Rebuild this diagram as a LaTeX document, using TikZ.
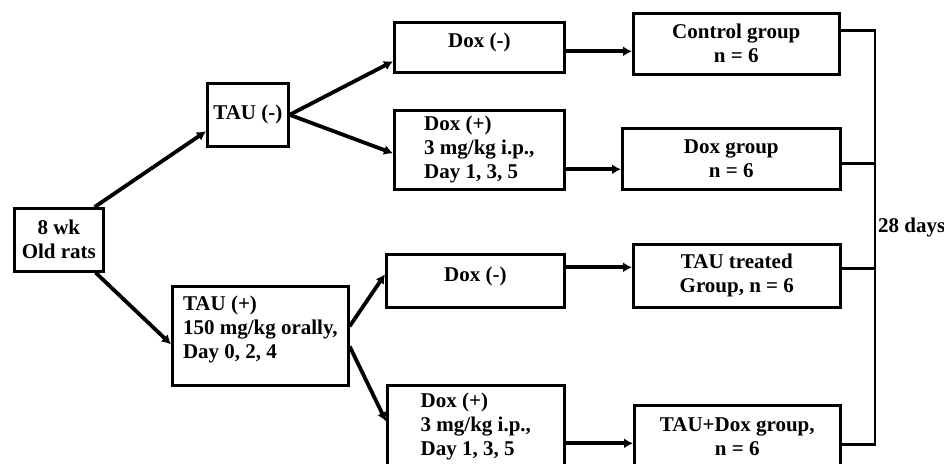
\documentclass[tikz,border=0pt]{standalone}
\usepackage{fontspec}
\setmainfont{Liberation Serif}
\usetikzlibrary{arrows.meta, positioning, calc}

\begin{document}
\begin{tikzpicture}[
  x=1pt, y=-1pt,
  box/.style={draw, line width=2.6pt, inner sep=2pt, anchor=north west,
    font=\fontsize{21}{24}\selectfont\bfseries},
  arr/.style={-{Latex[length=9pt, width=10pt]}, line width=3.8pt},
  brk/.style={line width=2.6pt}
]
\useasboundingbox (0,0) rectangle (944,463);
% start and treatment boxes
\node[box, minimum width=89pt, minimum height=63pt, align=center] (rats) at (13,207) {8 wk\\Old rats};
\node[box, minimum width=81pt, minimum height=63pt] (taum) at (206,82) {TAU (-)};
\node[box, minimum width=176pt, minimum height=99pt, align=left, text depth=18pt] (taup) at (171,285)
  {TAU (+)\\150 mg/kg orally,\\Day 0, 2, 4};
\node[box, minimum width=170pt, minimum height=50pt, text depth=14pt] (doxa) at (393,21) {Dox (-)};
\node[box, minimum width=170pt, minimum height=79pt, align=left] (doxb) at (393,109)
  {Dox (+)\\3 mg/kg i.p.,\\Day 1, 3, 5};
\node[box, minimum width=178pt, minimum height=53pt, text depth=14pt] (doxc) at (385,253) {Dox (-)};
\node[box, minimum width=177pt, minimum height=82pt, align=left] (doxd) at (386,384)
  {Dox (+)\\3 mg/kg i.p.,\\Day 1, 3, 5};
% groups
\node[box, minimum width=206pt, minimum height=61pt, align=center] (ctrl) at (632,12) {Control group\\n = 6};
\node[box, minimum width=218pt, minimum height=61pt, align=center] (doxg) at (621,127) {Dox group\\n = 6};
\node[box, minimum width=207pt, minimum height=63pt, align=center] (taut) at (632,243) {TAU treated\\Group, n = 6};
\node[box, minimum width=206pt, minimum height=62pt, align=center] (taud) at (633,404) {TAU+Dox group,\\n = 6};

\draw[arr] ([xshift=-10pt]rats.north east) -- ([yshift=-16.5pt]taum.west);
\draw[arr] ([xshift=-9pt]rats.south east) -- ([yshift=-8.5pt]taup.west);
\draw[arr] (taum.east) -- ([yshift=-14pt]doxa.west);
\draw[arr] (taum.east) -- ([yshift=-3.5pt]doxb.west);
\draw[arr] ([yshift=9.5pt]taup.east) -- ([yshift=6.5pt]doxc.west);
\draw[arr] ([yshift=-10.5pt]taup.east) -- ([yshift=5pt]doxd.west);

\draw[arr] ([yshift=-4pt]doxa.east) coordinate (ha) -- (ha -| ctrl.west);
\draw[arr] ([yshift=-19.5pt]doxb.east) coordinate (hb) -- (hb -| doxg.west);
\draw[arr] ([yshift=13.5pt]doxc.east) coordinate (hc) -- (hc -| taut.west);
\draw[arr] ([yshift=-17pt]doxd.east) coordinate (hd) -- (hd -| taud.west);

% 28 days bracket
\coordinate (bx) at (875,0);
\coordinate (b1) at ([yshift=13.5pt]ctrl.east);
\coordinate (b2) at ([yshift=-4.5pt]doxg.east);
\coordinate (b3) at ([yshift=7.5pt]taut.east);
\coordinate (b4) at ([yshift=-8pt]taud.east);
\draw[brk] (b1) -- (b1 -| bx) -- (b4 -| bx) -- (b4);
\draw[brk] (b2) -- (b2 -| bx);
\draw[brk] (b3) -- (b3 -| bx);
\node[anchor=west, inner sep=0pt, font=\fontsize{21}{24}\selectfont\bfseries] (days) at (878,227) {28 days};
\end{tikzpicture}
\end{document}
